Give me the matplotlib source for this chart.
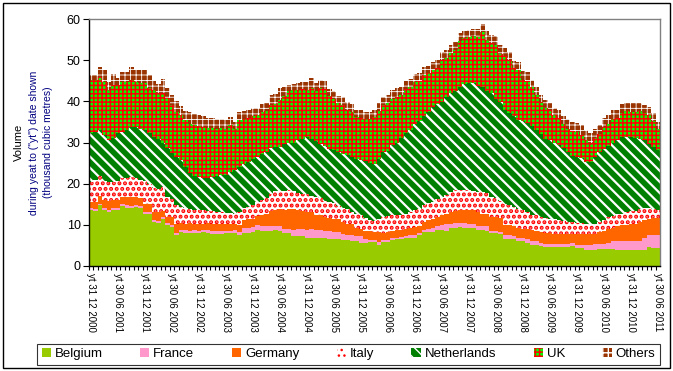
import numpy as np
import matplotlib
matplotlib.use('Agg')
import matplotlib.pyplot as plt
from matplotlib.patches import Rectangle

plt.rcParams['font.family'] = ['Liberation Sans', 'DejaVu Sans']

# year-to-date volumes, one bar per month from 12/2000 to 06/2011 (thousand m3)
belgium = [13.7, 13.4, 14.9, 13.7, 13.0, 13.5, 13.5, 14.5, 14.2, 14.1, 14.3, 14.0, 12.7, 12.7, 10.7, 10.5, 11.3,
           9.9, 9.4, 7.5, 8.3, 8.1, 8.0, 8.1, 8.0, 8.2, 8.0, 7.8, 7.8, 7.7, 7.9, 7.9, 8.1,
           7.5, 8.1, 8.1, 8.2, 8.8, 8.4, 8.4, 8.5, 8.8, 8.6, 7.9, 7.9, 7.3, 7.3, 7.2, 6.9, 6.9, 6.9, 6.7, 6.7,
           6.5, 6.5, 6.5, 6.2, 6.2, 6.0, 6.0, 5.6, 5.6, 5.8, 5.8, 5.0,
           5.8, 5.8, 6.4, 6.5, 6.5, 6.8, 6.8, 6.9, 7.5, 8.2, 8.3, 8.3, 8.7, 8.7, 8.6, 9.3, 9.3, 9.4, 9.3, 9.3,
           9.3, 8.7, 8.7, 8.6, 7.9, 7.9, 7.8, 6.6, 6.5, 6.5, 6.0, 6.0,
           5.7, 5.2, 5.2, 4.9, 4.6, 4.5, 4.5, 4.5, 4.5, 4.5, 4.9, 4.4, 4.4, 3.8, 3.8, 3.8, 4.2, 4.2, 4.2, 4.2,
           3.8, 3.8, 3.8, 3.8, 3.8, 4.0, 4.0, 4.6, 4.4, 4.4]
france = [0.5, 0.5, 0.2, 0.5, 0.5, 0.5, 0.5, 0.5, 0.5, 0.5, 0.5, 0.5, 0.5, 0.5, 0.5, 0.5, 0.5,
          0.5, 0.5, 0.5, 0.5, 0.6, 0.6, 0.6, 0.6, 0.6, 0.7, 0.7, 0.7, 0.7, 0.7, 0.7, 0.7,
          0.8, 1.1, 1.2, 1.2, 1.1, 1.3, 1.3, 1.2, 1.0, 1.1, 1.1, 1.1, 1.5, 1.6, 1.7, 1.9, 2.0, 1.9, 2.0, 1.9,
          1.9, 1.8, 1.8, 1.6, 1.4, 1.5, 1.4, 1.6, 1.0, 0.6, 0.5, 0.8,
          0.4, 0.6, 0.4, 0.4, 0.5, 0.6, 0.7, 0.7, 0.5, 0.6, 0.7, 0.9, 1.1, 1.3, 1.5, 1.0, 1.1, 1.0, 1.1, 1.0,
          0.9, 1.1, 1.0, 1.0, 0.7, 0.5, 0.5, 1.0, 1.0, 0.9, 0.8, 0.8,
          0.8, 0.8, 0.8, 0.7, 0.8, 0.9, 0.9, 0.9, 0.9, 0.9, 0.8, 0.8, 0.8, 1.4, 1.4, 1.5, 1.2, 1.2, 1.4, 1.8,
          2.2, 2.2, 2.2, 2.2, 2.2, 2.0, 2.8, 2.9, 3.1, 3.1]
germany = [1.4, 1.7, 1.9, 1.8, 2.3, 2.0, 2.0, 1.8, 2.1, 2.1, 2.0, 2.1, 1.8, 1.8, 1.9, 2.1, 1.5,
           1.5, 2.0, 2.3, 1.7, 1.6, 1.8, 1.6, 1.6, 1.5, 1.7, 1.7, 1.8, 1.7, 1.6, 1.7, 1.4,
           1.7, 2.0, 2.1, 2.1, 2.3, 2.8, 3.0, 3.6, 3.8, 4.1, 4.7, 4.9, 5.0, 4.7, 4.4, 4.3, 4.1, 3.6, 3.6, 3.4,
           3.2, 3.2, 3.0, 2.8, 2.7, 2.7, 1.8, 1.8, 2.0, 2.0, 2.0, 2.5,
           1.8, 1.9, 1.8, 1.8, 1.8, 1.6, 1.7, 1.9, 1.6, 2.0, 2.1, 2.2, 2.2, 2.3, 2.5, 2.7, 2.9, 3.1, 3.2, 3.3,
           3.3, 3.2, 3.0, 3.0, 3.4, 3.5, 3.3, 2.4, 2.4, 2.4, 2.4, 2.3,
           2.5, 2.8, 2.6, 2.6, 2.5, 2.5, 2.4, 2.4, 2.3, 2.3, 2.0, 2.5, 2.5, 2.5, 2.5, 2.5, 2.9, 3.0, 3.5, 3.3,
           3.6, 3.9, 4.0, 4.3, 4.3, 4.8, 4.3, 3.9, 4.1, 4.1]
italy = [4.9, 5.2, 4.8, 4.6, 4.5, 4.5, 4.6, 4.5, 4.6, 4.9, 4.5, 4.4, 5.6, 5.0, 5.9, 5.7, 5.9,
         4.9, 4.3, 4.5, 3.8, 3.7, 3.4, 3.3, 3.3, 3.2, 2.9, 3.1, 2.7, 2.9, 2.6, 2.5, 2.5,
         3.1, 3.0, 3.0, 3.3, 3.4, 3.5, 3.7, 4.3, 4.6, 4.4, 4.6, 4.5, 4.4, 4.2, 4.3, 4.5, 4.0, 4.4, 4.3, 3.8,
         4.0, 3.7, 3.2, 3.4, 3.5, 2.8, 3.5, 3.5, 3.0, 2.8, 2.7, 3.2,
         4.0, 3.9, 3.7, 3.6, 3.6, 3.6, 3.8, 4.1, 4.2, 4.0, 4.1, 4.2, 4.3, 4.5, 4.7, 5.0, 5.1, 5.0, 4.9, 4.8,
         4.8, 5.0, 5.3, 5.2, 4.8, 4.5, 4.2, 5.0, 4.9, 4.6, 4.6, 4.5,
         4.0, 3.7, 3.7, 3.8, 3.7, 3.5, 3.5, 3.4, 3.3, 3.1, 3.0, 2.8, 2.7, 2.6, 2.6, 2.5, 2.3, 2.8, 2.8, 2.8,
         3.0, 2.8, 3.0, 3.0, 3.1, 3.0, 3.0, 2.8, 2.2, 2.0]
netherlands = [11.7, 11.8, 11.2, 11.2, 10.3, 10.7, 11.6, 11.3, 11.6, 12.2, 12.5, 12.4, 12.4, 12.4, 12.4, 12.0, 10.8,
               11.8, 11.3, 11.7, 11.4, 10.0, 8.7, 8.2, 8.0, 7.8, 8.0, 8.2, 8.8, 9.0, 9.2, 10.1, 10.6,
               10.9, 10.5, 10.8, 11.2, 10.9, 11.2, 11.2, 11.0, 10.6, 10.8, 11.3, 11.4, 11.8, 12.7, 13.2, 13.8,
               13.8, 13.6, 13.0, 13.4, 12.9, 13.0, 13.3, 13.2, 13.1, 13.4, 13.4, 13.3, 13.8, 13.8, 13.8, 14.6,
               15.8, 15.8, 17.0, 17.7, 18.6, 19.6, 20.0, 20.9, 21.4, 21.7, 22.3, 23.0, 23.0, 23.0, 23.7, 24.0,
               24.1, 25.1, 25.7, 26.0, 26.1, 25.8, 25.4, 24.8, 25.2, 24.2, 24.0, 23.0, 22.4, 22.0, 21.7, 21.6,
               21.8, 21.5, 20.7, 20.0, 19.2, 19.2, 18.5, 18.2, 17.6, 17.0, 16.1, 16.0, 15.9, 15.0, 14.9, 16.1,
               17.2, 17.2, 17.3, 17.9, 18.0, 18.7, 18.4, 18.1, 17.8, 17.0, 16.5, 15.4, 15.0, 14.6]
uk = [13.0, 12.6, 13.0, 13.0, 12.2, 12.8, 11.8, 12.2, 11.8, 11.4, 11.0, 11.0, 11.4, 10.8, 11.4, 11.2, 12.0,
      12.1, 11.6, 11.0, 11.0, 11.5, 11.9, 12.4, 12.5, 12.5, 12.3, 12.1, 11.6, 11.5, 11.3, 11.4, 10.1,
      11.5, 11.1, 10.8, 10.4, 10.1, 10.1, 10.1, 10.4, 10.5, 11.3, 11.6, 12.8, 12.8, 12.3, 12.2, 11.4, 12.4, 12.2,
      13.6, 13.8, 12.7, 12.4, 11.8, 11.8, 11.1, 11.0, 10.1, 10.2, 10.3, 10.6, 11.4, 11.5,
      11.2, 11.6, 11.3, 11.0, 10.5, 10.8, 10.5, 10.1, 9.8, 9.8, 9.3, 8.9, 8.9, 10.2, 9.5, 9.8, 10.0, 11.0,
      11.2, 11.2, 11.4, 11.8, 13.4, 12.4, 12.2, 13.2, 11.8, 13.0, 12.8, 11.6, 12.0, 10.1,
      10.2, 9.5, 8.5, 7.8, 7.6, 7.4, 7.0, 6.6, 6.0, 5.4, 6.0, 6.0, 5.5, 5.3, 4.8, 4.6, 4.2, 5.4, 5.4, 5.8,
      5.4, 5.8, 6.2, 6.0, 6.3, 6.8, 6.6, 7.2, 6.5, 5.0]
others = [1.2, 1.2, 2.3, 2.8, 2.0, 2.6, 1.6, 2.3, 2.4, 3.1, 2.8, 3.2, 3.2, 3.2, 2.2, 2.2, 3.5,
          2.5, 2.5, 2.5, 2.2, 2.2, 2.9, 2.8, 2.6, 2.7, 2.4, 2.4, 2.2, 2.3, 2.1, 2.0, 1.6,
          2.0, 1.8, 1.8, 1.9, 1.8, 2.0, 1.9, 2.6, 2.4, 2.9, 2.4, 1.4, 1.4, 1.7, 1.8, 2.0, 2.4, 1.8, 2.0, 2.0,
          1.8, 2.0, 1.8, 2.0, 1.8, 2.0, 1.8, 1.8, 1.8, 1.8, 1.8, 1.9,
          2.0, 2.0, 2.2, 2.2, 2.1, 2.0, 1.9, 2.0, 2.0, 2.0, 1.9, 2.0, 1.8, 2.0, 1.9, 2.0, 1.8, 2.0, 1.7, 1.7,
          1.8, 1.9, 2.0, 2.0, 2.0, 2.0, 2.1, 2.0, 2.1, 1.9, 2.0, 2.1,
          2.2, 1.7, 1.9, 1.8, 1.9, 1.6, 1.7, 2.0, 1.8, 2.4, 2.2, 2.2, 2.4, 2.4, 2.2, 2.2, 2.3, 2.1, 2.2, 2.1,
          2.0, 2.1, 2.0, 2.2, 2.0, 2.0, 2.0, 1.8, 1.8, 1.8]

series_names = ['Belgium', 'France', 'Germany', 'Italy', 'Netherlands', 'UK', 'Others']

tick_labels = ['yt 31 12 2000', 'yt 30 06 2001', 'yt 31 12 2001', 'yt 30 06 2002', 'yt 31 12 2002',
               'yt 30 06 2003', 'yt 31 12 2003', 'yt 30 06 2004', 'yt 31 12 2004', 'yt 30 06 2005',
               'yt 31 12 2005', 'yt 30 06 2006', 'yt 31 12 2006', 'yt 30 06 2007', 'yt 31 12 2007',
               'yt 30 06 2008', 'yt 31 12 2008', 'yt 30 06 2009', 'yt 31 12 2009', 'yt 30 06 2010',
               'yt 31 12 2010', 'yt 30 06 2011']

# face, hatch colour, hatch pattern, hatch width (pt)
styles = [('#99CC00', '#99CC00', None, 1.0),
          ('#FF99CC', '#FF99CC', None, 1.0),
          ('#FF6600', '#FF6600', None, 1.0),
          ('white', '#FF0000', '...', 2.0),
          ('#008000', 'white', '\\\\\\', 1.6),
          ('#00FF00', '#FF0000', '++++', 1.1),
          ('#993300', 'white', '+++', 0.6)]

all_series = [belgium, france, germany, italy, netherlands, uk, others]
x = np.arange(len(belgium))

fig = plt.figure(figsize=(6.73, 3.71), dpi=100)
ax = fig.add_axes([89/673, 1-266/371, (660-89)/673, (266-19)/371])

bottom = np.zeros(len(x))
for name, vals, st in zip(series_names, all_series, styles):
    face, hcol, hatch, hlw = st
    with plt.rc_context({'hatch.linewidth': hlw}):
        bars = ax.bar(x, vals, width=1.0, bottom=bottom, color=face, edgecolor=hcol,
                      linewidth=0, hatch=hatch, label=name, antialiased=False)
    for b in bars:
        if hasattr(b, 'set_hatch_linewidth'):
            b.set_hatch_linewidth(hlw)
    bottom = bottom + np.array(vals)

ax.set_xlim(-0.5, len(x) - 0.5)
ax.set_ylim(0, 60)
ax.set_yticks(np.arange(0, 61, 10))
ax.tick_params(axis='y', labelsize=9, length=4, width=0.8, direction='out', pad=2)

# labels every six months, small tick marks between every month
ax.set_xticks(x[::6])
ax.set_xticklabels(tick_labels, rotation=-90, fontsize=7, va='top', ha='center')
ax.set_xticks(x - 0.5, minor=True)
ax.tick_params(axis='x', which='major', length=0, pad=5)
ax.tick_params(axis='x', which='minor', length=3, width=0.8)

for side in ['top', 'right']:
    ax.spines[side].set_color('#808080')
    ax.spines[side].set_linewidth(1.0)
for side in ['left', 'bottom']:
    ax.spines[side].set_color('black')
    ax.spines[side].set_linewidth(1.0)

# y axis title in three lines
ax.text(-0.123, 0.5, 'Volume', transform=ax.transAxes, rotation=90,
        ha='center', va='center', fontsize=8, color='black')
ax.text(-0.097, 0.5, 'during yeat to ("yt") date shown', transform=ax.transAxes, rotation=90,
        ha='center', va='center', fontsize=7.5, color='#000080')
ax.text(-0.072, 0.5, '(thousand cubic metres)', transform=ax.transAxes, rotation=90,
        ha='center', va='center', fontsize=7.5, color='#000080')

lgd = fig.legend(loc='lower left', bbox_to_anchor=(37/673, 1-365/371, (660-37)/673, 25/371),
                 mode='expand', ncol=7, fontsize=9.5, frameon=True, fancybox=False,
                 edgecolor='black', handlelength=0.7, handleheight=0.7, handletextpad=0.3,
                 borderaxespad=0, borderpad=0.35)
lgd.get_frame().set_linewidth(0.8)

# chart border
fig.patches.append(Rectangle((3/673, 3/371), 667/673, 365/371, transform=fig.transFigure,
                             fill=False, edgecolor='black', linewidth=1.0))

fig.savefig('out.png', dpi=100)
